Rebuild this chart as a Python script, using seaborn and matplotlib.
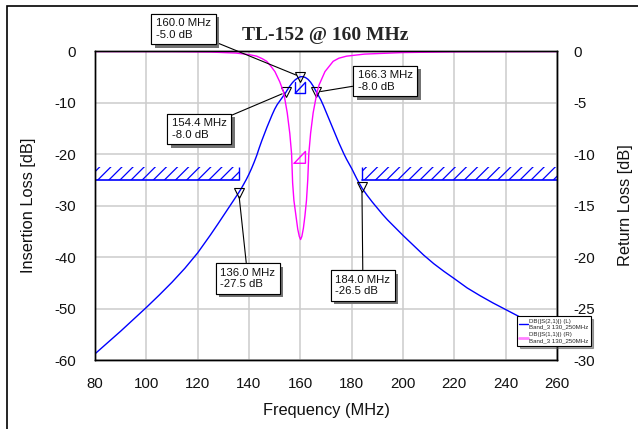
import numpy as np
import pandas as pd
import matplotlib
matplotlib.use("Agg")
import matplotlib.pyplot as plt
import matplotlib.patheffects as pe
from matplotlib.patches import Rectangle
import seaborn as sns

# --- data ---
# insertion loss S21 (left axis, dB)
s21_freq = [80, 85, 90, 95, 100, 105, 110, 115, 120, 122, 125, 128, 130, 132, 134, 136,
            137, 138, 139, 140, 141, 142, 143, 144, 145, 146, 147, 148, 149, 150, 151,
            152, 153, 154.4, 155, 156, 157, 158, 159, 160, 161, 162, 163, 164, 165,
            166.3, 167, 168, 169, 170, 171, 172, 173, 174, 175, 176, 177, 178, 179,
            180, 182, 184, 186, 188, 190, 192, 194, 196, 198, 200, 204, 208, 212, 216,
            220, 225, 230, 235, 240, 245, 250, 255, 260]
s21_db = [-58.8, -56.6, -54.4, -52.1, -49.8, -47.4, -44.9, -42.2, -39.2, -37.8, -35.7,
          -33.5, -32.0, -30.5, -29.0, -27.5, -26.7, -25.8, -24.9, -23.9, -22.8, -21.6,
          -20.3, -18.8, -17.4, -16.1, -14.8, -13.6, -12.4, -11.3, -10.4, -9.7, -9.0,
          -8.0, -7.5, -6.75, -6.1, -5.6, -5.25, -5.0, -4.98, -5.15, -5.5, -6.05, -6.8,
          -8.0, -8.6, -9.5, -10.6, -11.8, -13.0, -14.2, -15.4, -16.6, -17.8, -18.9,
          -20.0, -21.0, -21.9, -22.8, -24.8, -26.6, -28.0, -29.3, -30.5, -31.7, -32.8,
          -33.8, -34.8, -35.8, -37.7, -39.6, -41.3, -42.8, -44.2, -46.0, -47.5, -48.9,
          -50.2, -51.5, -52.8, -54.0, -55.2]

# return loss S11 (right axis, dB)
s11_freq = [80, 110, 125, 135, 140, 143.0, 145.2, 146.9, 148.6, 150.1, 152.0, 153.5,
            154.9, 155.9, 156.6, 157.0, 157.5, 158.3, 159.0, 159.6, 160.1, 160.6,
            161.2, 161.8, 162.4, 162.9, 163.3, 164.0, 165.0, 166.5, 167.3, 169.6,
            172.8, 175, 178, 185, 200, 220, 260]
s11_db = [-0.05, -0.06, -0.1, -0.2, -0.35, -0.5, -0.75, -1.0, -1.5, -2.0, -3.0, -4.0,
          -6.0, -8.0, -10.0, -12.8, -14.5, -16.0, -17.3, -18.0, -18.3, -18.0, -17.2,
          -16.0, -14.5, -12.5, -10.0, -8.0, -6.0, -4.0, -3.3, -2.0, -1.0, -0.7,
          -0.5, -0.3, -0.15, -0.08, -0.05]

# markers on S21
marker_freq = [160.0, 166.3, 154.4, 136.0, 184.0]
marker_db = [-5.0, -8.0, -8.0, -27.5, -26.5]

# stopband mask and goals
mask_ranges = [(80, 136), (184, 260)]
mask_level = -25
mask_top = -22.6
il_goal = (158, 162, -8.2, -6.1)
rl_goal = (157.6, 162, -10.9, -9.75)

x_ticks = list(range(80, 261, 20))
left_ticks = list(range(0, -61, -10))
right_ticks = list(range(0, -31, -5))

s21 = pd.DataFrame({"freq": s21_freq, "db": s21_db})
s11 = pd.DataFrame({"freq": s11_freq, "db": s11_db})

# --- plot ---
sns.set_theme(style="whitegrid")
plt.rcParams['font.family'] = ['Liberation Sans', 'DejaVu Sans']
plt.rcParams['axes.unicode_minus'] = False
plt.rcParams['hatch.linewidth'] = 0.9

fig = plt.figure(figsize=(6.38, 4.29), dpi=100)
fig.patch.set_facecolor('white')
ax = fig.add_axes([0.1489, 0.1608, 0.7241, 0.7203])
ax2 = ax.twinx()

blue = '#0000ff'
magenta = '#ff00ff'
txt = '#111111'

sns.lineplot(data=s21, x='freq', y='db', ax=ax, color=blue, lw=1.0, sort=False,
             label='DB(|S(2,1)|) (L)\nBand_3 130_250MHz', legend=False)
sns.lineplot(data=s11, x='freq', y='db', ax=ax2, color=magenta, lw=1.0, sort=False,
             label='DB(|S(1,1)|) (R)\nBand_3 130_250MHz', legend=False)

# mask
for lo, hi in mask_ranges:
    ax.fill_between([lo, hi], mask_level, mask_top, facecolor='none',
                    edgecolor=blue, hatch='///', linewidth=0)
    ax.plot([lo, hi], [mask_level, mask_level], color=blue, lw=1.2)
edge_x = [mask_ranges[0][1], mask_ranges[1][0]]
ax.vlines(edge_x, mask_level, mask_top, color=blue, lw=1.0)

# goals
f0, f1, d0, d1 = il_goal
ax.plot([f0, f0, f1, f1], [d1, d0, d0, d1], color=blue, lw=1.0)
ax.plot([f0, f1], [d0, d1], color=blue, lw=1.0)
f0, f1, d0, d1 = rl_goal
ax2.plot([f0, f1, f1, f0], [d0, d0, d1, d0], color=magenta, lw=1.0)

# markers
ax.plot(marker_freq, marker_db, ls='none', marker='v', ms=7, mfc='none',
        mec='black', mew=0.8, zorder=5)

# annotation boxes (axes fraction of box centres)
box_pos = [(0.1916, 1.071), (0.628, 0.903), (0.226, 0.748), (0.331, 0.264), (0.580, 0.241)]
for f, d, pos in zip(marker_freq, marker_db, box_pos):
    ann = ax2.annotate(f"{f:.1f} MHz\n{d:.1f} dB", xy=(f, d), xycoords=ax.transData,
                       xytext=pos, textcoords='axes fraction', ha='center', va='center',
                       multialignment='left', fontsize=8.2, color=txt,
                       bbox=dict(boxstyle='square,pad=0.4', fc='white', ec='black', lw=0.8),
                       arrowprops=dict(arrowstyle='-', color='black', lw=0.8,
                                       shrinkA=0, shrinkB=3),
                       annotation_clip=False, zorder=10)
    ann.get_bbox_patch().set_path_effects(
        [pe.withSimplePatchShadow(offset=(2.5, -2.5), shadow_rgbFace='0.45', alpha=1.0),
         pe.Normal()])

ax.set_xlim(80, 260)
ax.set_ylim(-60, 0)
ax2.set_ylim(-30, 0)
ax.set_xticks(x_ticks)
ax.set_yticks(left_ticks)
ax2.set_yticks(right_ticks)
ax2.grid(False)
ax.grid(True, color='0.8', lw=1.1)
ax.tick_params(axis='x', length=0, pad=12, labelsize=10.8, colors=txt)
ax.tick_params(axis='y', length=0, pad=13.5, labelsize=10.8, colors=txt)
ax2.tick_params(axis='y', length=0, pad=11.5, labelsize=10.8, colors=txt)

ax.set_xlabel('Frequency (MHz)', fontsize=11.8, color=txt)
ax.set_ylabel('Insertion Loss [dB]', fontsize=11.8, color=txt)
ax2.set_ylabel('Return Loss [dB]', fontsize=11.8, color=txt)
ax.xaxis.set_label_coords(0.5, -0.14)
ax.yaxis.set_label_coords(-0.128, 0.5)
ax2.yaxis.set_label_coords(1.133, 0.5)

for a in (ax, ax2):
    for s in a.spines.values():
        s.set_color('black')
        s.set_linewidth(1.0)

fig.text(0.510, 0.918, 'TL-152 @ 160 MHz', ha='center', va='center', fontsize=14,
         fontweight='bold', family=['Liberation Serif', 'DejaVu Serif'])

h1, l1 = ax.get_legend_handles_labels()
h2, l2 = ax2.get_legend_handles_labels()
leg = ax2.legend(h1[:1] + h2[:1], l1[:1] + l2[:1], loc='upper left',
                 bbox_to_anchor=(0.913, 0.142), fontsize=4.4, frameon=True, fancybox=False,
                 shadow=True, borderpad=0.4, labelspacing=0.5, handlelength=1.4,
                 handletextpad=0.2, borderaxespad=0)
leg.get_frame().set_edgecolor('black')
leg.get_frame().set_linewidth(0.8)
for t in leg.get_texts():
    t.set_multialignment('left')
leg.legend_handles[1].set_color('#ff80ff')
leg.legend_handles[1].set_linewidth(2)
leg.set_zorder(20)

# outer frame of the picture
fig.add_artist(Rectangle((7 / 638, -0.1), 1.2, 1.1 - 6 / 429, transform=fig.transFigure,
                         fill=False, ec='black', lw=1.2))

fig.savefig('out.png', dpi=100)
